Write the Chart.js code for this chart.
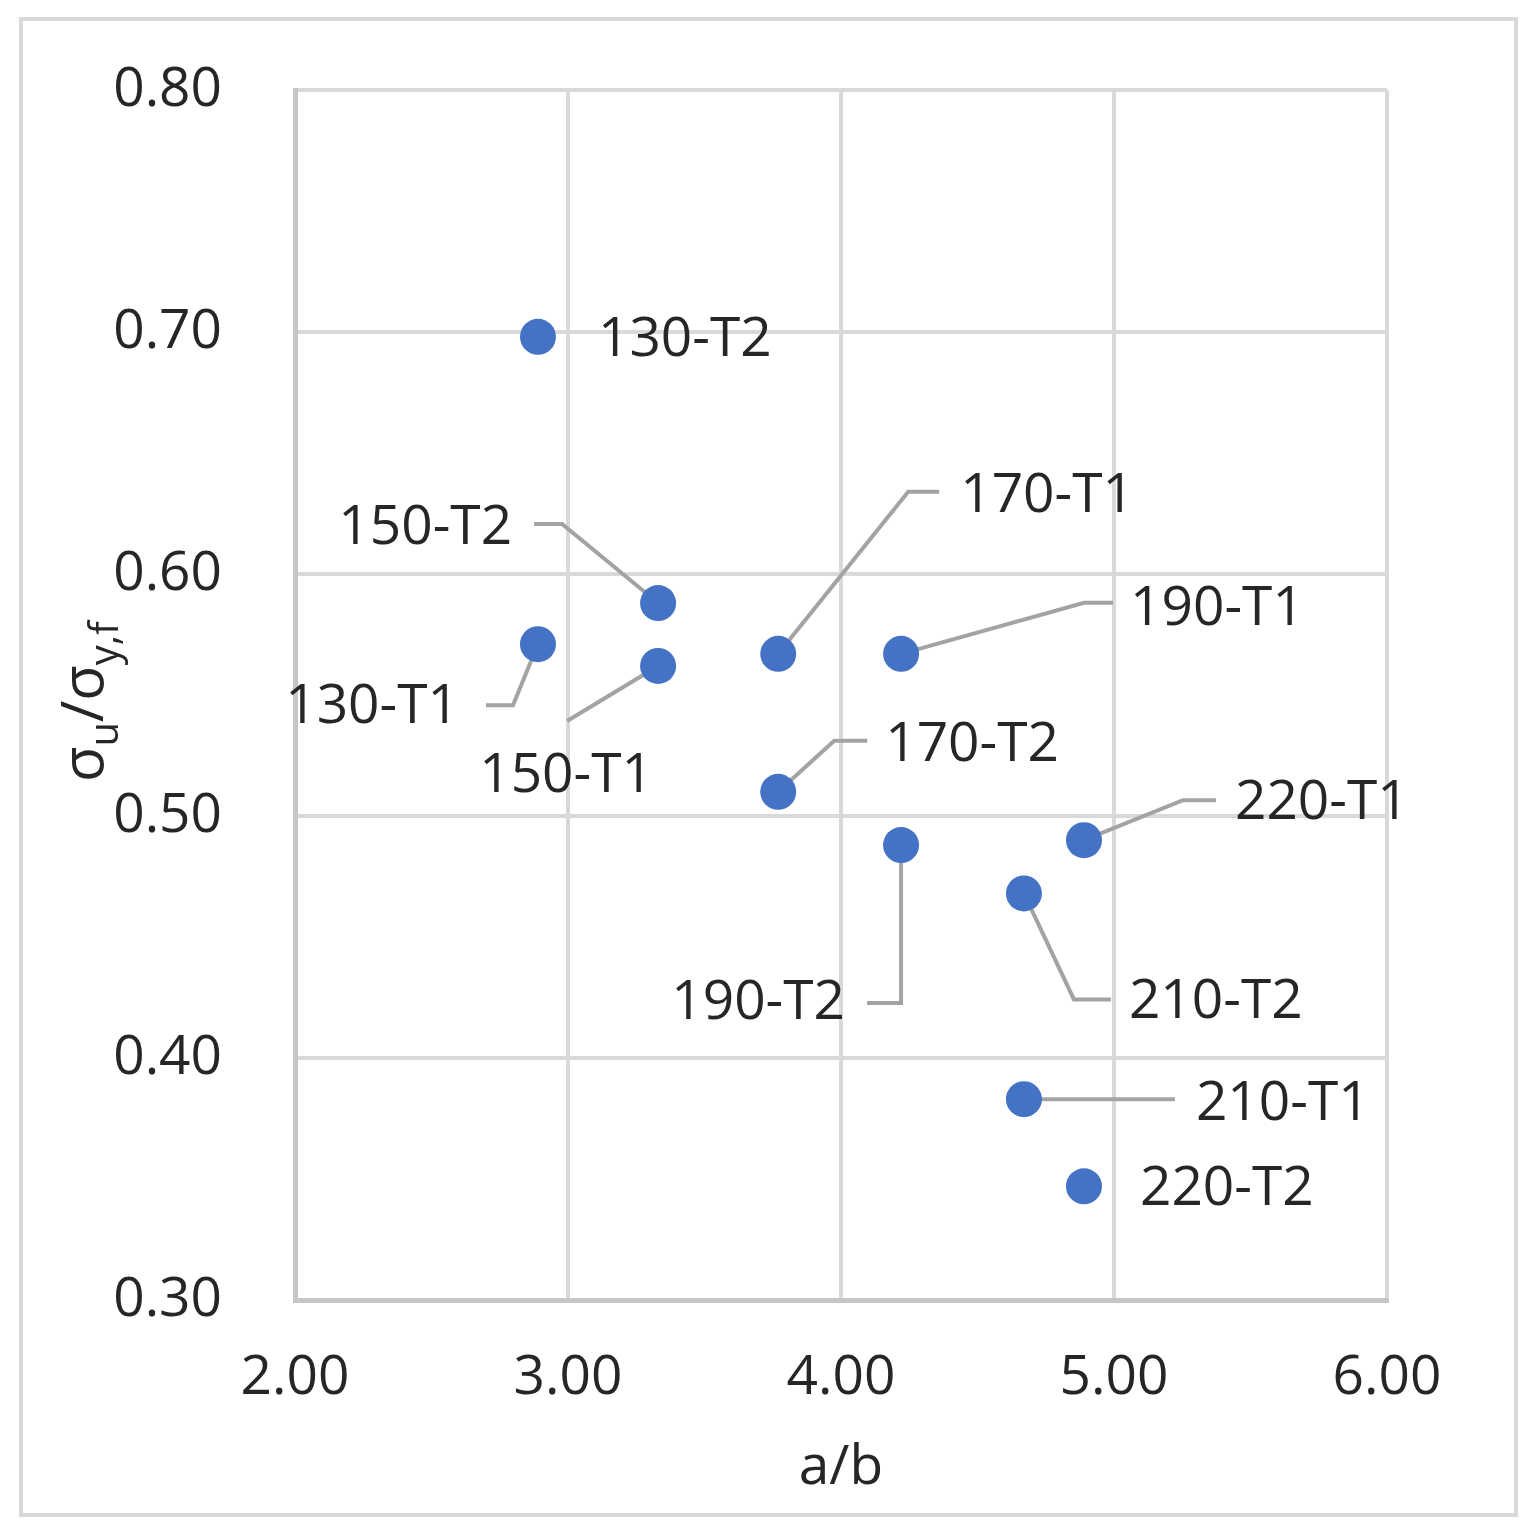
<!DOCTYPE html>
<html>
<head>
<meta charset="utf-8">
<script src="https://cdn.jsdelivr.net/npm/chart.js@4.4.1/dist/chart.umd.min.js"></script>
<style>
  html, body { margin: 0; padding: 0; background: #fff; }
  canvas { display: block; }
</style>
</head>
<body>
<canvas id="chart" width="1539" height="1539"></canvas>
<script>
// specimen names, a/b ratio and sigma_u / sigma_y,f
const names = ['130-T1', '130-T2', '150-T1', '150-T2', '170-T1', '170-T2',
               '190-T1', '190-T2', '210-T1', '210-T2', '220-T1', '220-T2'];
const ratioAB = [2.89, 2.89, 3.33, 3.33, 3.77, 3.77, 4.22, 4.22, 4.67, 4.67, 4.89, 4.89];
const stressRatio = [0.571, 0.698, 0.562, 0.588, 0.567, 0.510, 0.567, 0.488, 0.383, 0.468, 0.490, 0.347];

const xTicks = [2, 3, 4, 5, 6];
const yTicks = [0.3, 0.4, 0.5, 0.6, 0.7, 0.8];

// label placement (pixel offsets from the point) and leader line elbows
const labelPos = {
  '130-T1': { dx: -79, dy: 63, align: 'right', leader: [[-52, 61], [-25, 61]] },
  '130-T2': { dx: 60, dy: 3, align: 'left', leader: null },
  '150-T1': { dx: -92, dy: 110, align: 'center', leader: [[-91, 55]] },
  '150-T2': { dx: -146, dy: -75, align: 'right', leader: [[-124, -79], [-96, -79]] },
  '170-T1': { dx: 182, dy: -158, align: 'left', leader: [[161, -162], [130, -162]] },
  '170-T2': { dx: 107, dy: -46, align: 'left', leader: [[89, -51], [56, -51]] },
  '190-T1': { dx: 229, dy: -45, align: 'left', leader: [[212, -51], [183, -51]] },
  '190-T2': { dx: -56, dy: 158, align: 'right', leader: [[-34, 158], [0, 158]] },
  '210-T1': { dx: 172, dy: 5, align: 'left', leader: [[151, 0]] },
  '210-T2': { dx: 105, dy: 109, align: 'left', leader: [[87, 106], [50, 106]] },
  '220-T1': { dx: 151, dy: -37, align: 'left', leader: [[132, -40], [99, -40]] },
  '220-T2': { dx: 56, dy: 3, align: 'left', leader: null }
};

const FONT = '"Open Sans", "Noto Sans", sans-serif';
const TEXT = '#262626';

const labelsPlugin = {
  id: 'pointLabels',
  beforeDraw(chart) {
    const ctx = chart.ctx;
    ctx.save();
    ctx.fillStyle = '#fff';
    ctx.fillRect(0, 0, chart.width, chart.height);
    ctx.strokeStyle = '#d9d9d9';
    ctx.lineWidth = 4;
    ctx.strokeRect(21, 19, 1495, 1496);
    ctx.restore();
  },
  beforeDatasetsDraw(chart) {
    const ctx = chart.ctx;
    const pts = chart.getDatasetMeta(0).data;
    ctx.save();
    ctx.strokeStyle = '#a3a3a3';
    ctx.lineWidth = 4;
    names.forEach((n, i) => {
      const lp = labelPos[n];
      if (!lp.leader) return;
      const p = pts[i];
      ctx.beginPath();
      ctx.moveTo(p.x + lp.leader[0][0], p.y + lp.leader[0][1]);
      for (let k = 1; k < lp.leader.length; k++) {
        ctx.lineTo(p.x + lp.leader[k][0], p.y + lp.leader[k][1]);
      }
      ctx.lineTo(p.x, p.y);
      ctx.stroke();
    });
    ctx.restore();
  },
  afterDatasetsDraw(chart) {
    const ctx = chart.ctx;
    const pts = chart.getDatasetMeta(0).data;
    ctx.save();
    ctx.fillStyle = TEXT;
    ctx.font = '55px ' + FONT;
    ctx.textBaseline = 'middle';
    names.forEach((n, i) => {
      const lp = labelPos[n];
      const p = pts[i];
      ctx.textAlign = lp.align;
      ctx.fillText(n, p.x + lp.dx, p.y + lp.dy);
    });
    ctx.restore();
  },
  afterDraw(chart) {
    const ctx = chart.ctx;
    const area = chart.chartArea;
    ctx.save();
    ctx.fillStyle = TEXT;
    // x title
    ctx.font = '55px ' + FONT;
    ctx.textAlign = 'center';
    ctx.textBaseline = 'middle';
    ctx.fillText('a/b', (area.left + area.right) / 2, 1468);
    // y title with subscripts, rotated
    ctx.translate(103, 782);
    ctx.rotate(-Math.PI / 2);
    ctx.textAlign = 'left';
    ctx.textBaseline = 'alphabetic';
    let x = 0;
    const big = '58px ' + FONT, small = '40px ' + FONT;
    const parts = [['σ', big, 0], ['u', small, 15], ['/', big, 0], ['σ', big, 0], ['y,f', small, 15]];
    parts.forEach(([t, f, off]) => {
      ctx.font = f;
      ctx.fillText(t, x, off);
      x += ctx.measureText(t).width;
    });
    ctx.restore();
  }
};

new Chart(document.getElementById('chart'), {
  type: 'scatter',
  data: {
    datasets: [{
      label: 'σu/σy,f',
      data: ratioAB.map((v, i) => ({ x: v, y: stressRatio[i] })),
      backgroundColor: '#4472c4',
      borderColor: '#4472c4',
      pointRadius: 18,
      pointHoverRadius: 18,
      borderWidth: 0
    }]
  },
  options: {
    responsive: false,
    animation: false,
    layout: { padding: { top: 90, right: 152, left: 0, bottom: 0 } },
    plugins: { legend: { display: false }, tooltip: { enabled: false } },
    scales: {
      x: {
        type: 'linear',
        min: xTicks[0],
        max: xTicks[xTicks.length - 1],
        afterBuildTicks: s => { s.ticks = xTicks.map(v => ({ value: v })); },
        afterFit: s => { s.height = 239; s.paddingLeft = 0; s.paddingRight = 0; },
        ticks: {
          padding: 45,
          color: TEXT,
          font: { family: FONT, size: 55 },
          callback: v => v.toFixed(2),
          maxRotation: 0
        },
        grid: { color: '#d9d9d9', lineWidth: 4, drawTicks: false },
        border: { color: '#c6c6c6', width: 5 }
      },
      y: {
        type: 'linear',
        min: yTicks[0],
        max: yTicks[yTicks.length - 1],
        afterBuildTicks: s => { s.ticks = yTicks.map(v => ({ value: v })); },
        afterFit: s => { s.width = 295; s.paddingTop = 0; s.paddingBottom = 0; },
        ticks: {
          padding: 73,
          color: TEXT,
          font: { family: FONT, size: 55 },
          callback: v => v.toFixed(2)
        },
        grid: { color: '#d9d9d9', lineWidth: 4, drawTicks: false },
        border: { color: '#c6c6c6', width: 5 }
      }
    }
  },
  plugins: [labelsPlugin]
});
</script>
</body>
</html>
